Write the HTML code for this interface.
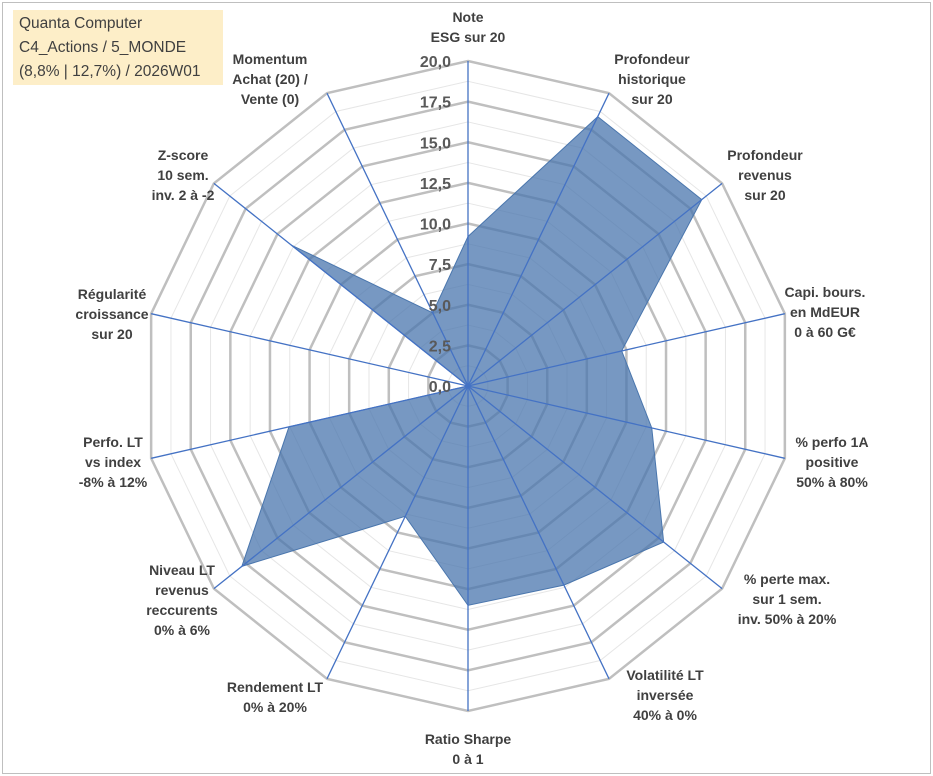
<!DOCTYPE html>
<html><head><meta charset="utf-8"><style>
body{margin:0;background:#fff;}
#wrap{position:relative;width:933px;height:776px;overflow:hidden;font-family:"Liberation Sans",sans-serif;}
#frame{position:absolute;left:2px;top:2px;width:927px;height:770px;border:1px solid #bfbfbf;}
#title{position:absolute;left:13px;top:10px;width:210px;height:75px;background:#fdeec8;font-size:15.5px;color:#404040;line-height:24px;padding:2px 6px;box-sizing:border-box;}
</style></head><body>
<div id="wrap">
<div id="frame"></div>
<svg id="svg" width="933" height="776" style="position:absolute;left:0;top:0"></svg>
<div id="title">Quanta Computer<br>C4_Actions / 5_MONDE<br>(8,8% | 12,7%) / 2026W01</div>
</div>
<script>
const categories=[["Note","ESG sur 20"],["Profondeur","historique","sur 20"],["Profondeur","revenus","sur 20"],["Capi. bours.","en MdEUR","0 à 60 G€"],["% perfo 1A","positive","50% à 80%"],["% perte max.","sur 1 sem.","inv. 50% à 20%"],["Volatilité LT","inversée","40% à 0%"],["Ratio Sharpe","0 à 1"],["Rendement LT","0% à 20%"],["Niveau LT","revenus","reccurents","0% à 6%"],["Perfo. LT","vs index","-8% à 12%"],["Régularité","croissance","sur 20"],["Z-score","10 sem.","inv. 2 à -2"],["Momentum","Achat (20) /","Vente (0)"]];
const values=[9.2,18.4,18.4,9.7,11.6,15.4,13.6,13.5,8.9,17.8,11.3,0,13.9,5];
const tickLabels=["0,0","2,5","5,0","7,5","10,0","12,5","15,0","17,5","20,0"];
const maxV=20;
const cx=468,cy=386,R=325;
const labelPos=[[468,22],[652,64],[765,160],[825,297],[832,447],[787,584],[665,680],[468,744],[275,692],[182,575],[113,447],[112,299],[183,160],[270,64]];
const svg=document.getElementById('svg');
const NS='http://www.w3.org/2000/svg';
const n=categories.length;
function ang(i){return i*2*Math.PI/n;}
function pt(i,v){const r=v/maxV*R;return [cx+r*Math.sin(ang(i)),cy-r*Math.cos(ang(i))];}
function mk(t,a){const e=document.createElementNS(NS,t);for(const k in a)e.setAttribute(k,a[k]);svg.appendChild(e);return e;}
for(let k=1;k<=16;k++){const v=k*maxV/16;const pts=[];for(let i=0;i<n;i++)pts.push(pt(i,v).join(','));
const e=mk('polygon',{points:pts.join(' '),fill:'none',stroke:k%2?'#e6e6e6':'#bfbfbf','stroke-width':k%2?1:2.5});

}
const sp=values.map((v,i)=>pt(i,v).join(','));
const poly=mk('polygon',{points:sp.join(' '),fill:'#4a76ad',stroke:'#4a76ad','fill-opacity':0.75,'stroke-width':1});


for(let i=0;i<n;i++){const p=pt(i,maxV);const l=mk('line',{x1:cx,y1:cy,x2:p[0],y2:p[1],stroke:'#4472c4','stroke-width':1.3});

}
tickLabels.forEach((t,k)=>{const y=cy-k*(R/8);const e=mk('text',{x:cx-17,y:y+6,'text-anchor':'end','font-size':16,'font-weight':'bold',fill:'#595959','font-family':'Liberation Sans, sans-serif'});e.textContent=t;

});
categories.forEach((lines,i)=>{const x0=labelPos[i][0],y0=labelPos[i][1];const lh=20;
const g=mk('text',{x:x0,y:y0,'text-anchor':'middle','font-size':14,'font-weight':'bold',fill:'#404040','font-family':'Liberation Sans, sans-serif'});


lines.forEach((ln,j)=>{const ts=document.createElementNS(NS,'tspan');ts.setAttribute('x',x0);ts.setAttribute('dy',j?lh:0);ts.textContent=ln;g.appendChild(ts);});});
</script>
</body></html>
